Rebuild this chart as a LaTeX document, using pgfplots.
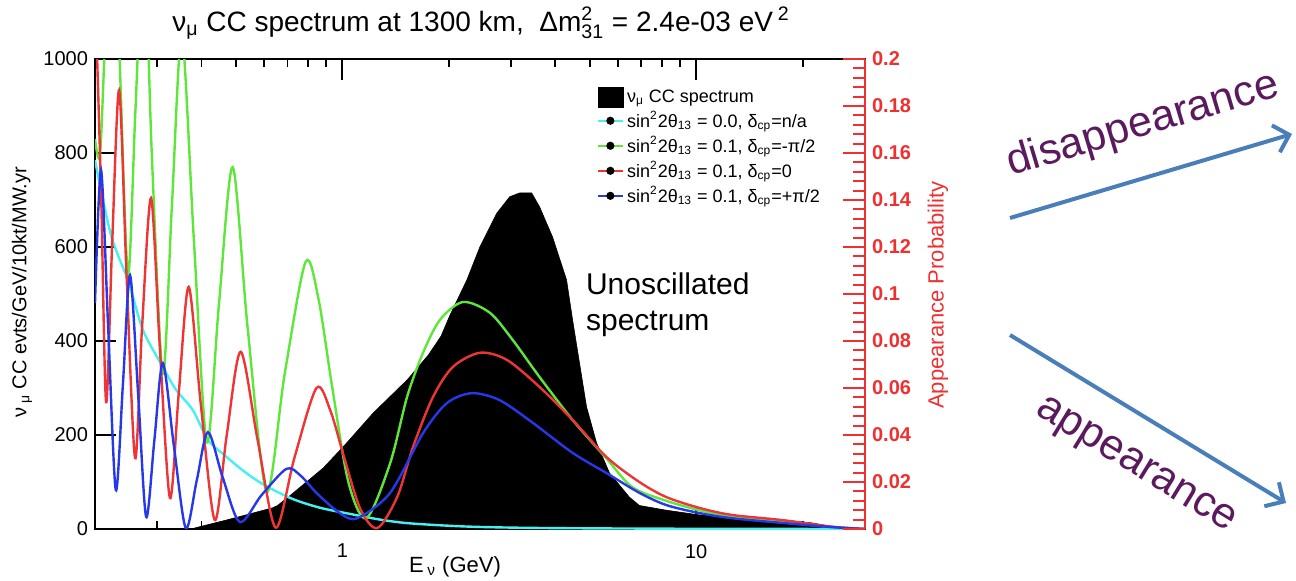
\documentclass[border=0pt]{standalone}
\usepackage{amsmath}
\usepackage{fontspec}
\setmainfont{Liberation Sans}
\usepackage{pgfplots}
\pgfplotsset{compat=1.18}
\usetikzlibrary{arrows.meta}
\definecolor{cyanc}{HTML}{44F0F0}
\definecolor{greenc}{HTML}{5EE63A}
\definecolor{redc}{HTML}{EE3535}
\definecolor{bluec}{HTML}{2638E8}
\definecolor{axred}{HTML}{EE3030}
\definecolor{arrowblue}{HTML}{4A7EBB}
\definecolor{purp}{HTML}{5C1A5E}
\newcommand{\sub}[1]{$_{\text{#1}}$}
\pgfplotsset{dotleg/.style={legend image code/.code={\draw[##1] (0pt,0pt) -- (12.5pt,0pt); \fill[black] (6.25pt,0pt) circle (1.4pt);}}}
\begin{document}
\begin{tikzpicture}
\path[use as bounding box] (0pt,0pt) rectangle (648pt,290pt);
\begin{axis}[
  at={(47.5pt,25.5pt)}, anchor=south west,
  width=385pt, height=235pt, scale only axis,
  xmode=log, xmin=0.2, xmax=30,
  ymin=0, ymax=1000,
  xtick={1,10}, xticklabels={1,10},
  minor xtick={0.2,0.3,0.4,0.5,0.6,0.7,0.8,0.9,2,3,4,5,6,7,8,9,20,30},
  ytick={0,200,400,600,800,1000},
  yticklabels={0,200,400,600,800,1000},
  ytick pos=left,
  tick align=inside,
  major tick length=10.5pt, minor tick length=4pt,
  tick style={black, line width=0.9pt},
  axis line style={line width=0.8pt},
  tick label style={font=\fontsize{10}{12}\selectfont},
  xticklabel style={yshift=-4pt},
  /pgf/number format/assume math mode=true,
  legend style={at={(0.651,0.942)}, anchor=north west, draw=none, fill=none,
    font=\fontsize{9}{10}\selectfont, inner sep=0pt, row sep=0pt, nodes={inner sep=1.5pt}},
  legend cell align=left,
]
% unoscillated spectrum (filled)
\addplot[fill=black, draw=black, line width=0.3pt,
  legend image code/.code={\fill[black] (0pt,-5pt) rectangle (12.5pt,5pt);}]
coordinates {
(0.2,0) (0.373,0) (0.493,23) (0.635,45) (0.656,50) (0.714,72) (0.884,130) (1.02,180)
(1.223,247) (1.524,317) (1.75,370) (1.9,410) (2.015,455) (2.249,530) (2.447,600) (2.733,672)
(2.973,707) (3.171,715) (3.428,715) (3.612,685) (3.929,621) (4.302,530) (4.474,445)
(4.68,353) (4.899,260) (5.23,183) (5.69,119) (6.47,68) (6.91,50) (8.23,40) (10.2,30)
(13.2,26) (17.5,19) (21.2,13) (24.2,5) (30,0)
} \closedcycle;
\addlegendentry{ν\sub{μ} CC spectrum\rule[-4pt]{0pt}{1pt}}
% sin^2 2theta13 = 0
\addplot[cyanc, line width=1.2pt, smooth, dotleg] coordinates {
(0.2,785) (0.222,625) (0.249,525) (0.2733,423) (0.311,345) (0.339,296) (0.378,253)
(0.417,190) (0.468,155) (0.533,120) (0.607,92) (0.723,64) (0.867,45) (1.053,32)
(1.279,20) (1.554,12) (2.294,5) (3.85,2) (10,0.5) (30,0)
};
\addlegendentry{sin$^{\text{2}}$2θ\sub{13} = 0.0, δ\sub{cp}=n/a}
% delta = -pi/2
\addplot[greenc, line width=1.2pt, smooth, dotleg] coordinates {
(0.2,830) (0.2068,800) (0.215,1100) (0.225,1400) (0.2355,970) (0.248,540) (0.2603,895)
(0.275,1250) (0.2897,790) (0.311,330) (0.330,690) (0.352,1050) (0.3804,618) (0.414,185)
(0.448,478) (0.490,770) (0.540,428) (0.611,80) (0.6866,328) (0.787,568) (0.856,490)
(0.937,300) (1.04,100) (1.169,23) (1.365,140) (1.524,281) (1.691,375) (1.888,445)
(2.192,483) (2.612,460) (3.032,402) (3.612,323) (4.474,232) (5.58,150) (6.60,89)
(8.23,60) (10.2,40) (12.6,26) (17.5,15) (24.2,4) (30,0)
};
\addlegendentry{sin$^{\text{2}}$2θ\sub{13} = 0.1, δ\sub{cp}=-π/2}
% delta = 0
\addplot[redc, line width=1.2pt, smooth, dotleg] coordinates {
(0.2,1150) (0.208,720) (0.215,270) (0.2235,602) (0.234,934) (0.2455,542) (0.2596,151)
(0.2716,428) (0.288,704) (0.305,385) (0.3257,66) (0.345,290) (0.368,515) (0.398,267)
(0.4359,19) (0.471,198) (0.516,377) (0.576,190) (0.648,3) (0.732,151) (0.845,300)
(0.925,252) (1.013,151) (1.124,43) (1.255,2) (1.429,68) (1.585,175) (1.804,281)
(2.054,345) (2.447,375) (2.915,360) (3.612,302) (4.474,232) (5.58,153) (6.91,100)
(8.23,68) (10.2,45) (12.6,30) (17.5,19) (24.2,5) (30,0)
};
\addlegendentry{sin$^{\text{2}}$2θ\sub{13} = 0.1, δ\sub{cp}=0}
% delta = +pi/2
\addplot[bluec, line width=1.2pt, smooth, dotleg] coordinates {
(0.2,481) (0.208,764) (0.218,424) (0.229,83) (0.240,312) (0.2512,540) (0.265,283)
(0.279,26) (0.2944,190) (0.311,353) (0.334,178) (0.361,2) (0.388,104) (0.417,206)
(0.459,110) (0.513,15) (0.591,72) (0.695,128) (0.761,114) (0.850,75) (0.987,33)
(1.102,23) (1.365,77) (1.691,204) (1.976,268) (2.323,289) (2.786,274) (3.452,226)
(4.474,162) (5.58,119) (6.91,77) (8.23,51) (10.2,34) (12.6,23) (17.5,13) (24.2,4) (30,0)
};
\addlegendentry{sin$^{\text{2}}$2θ\sub{13} = 0.1, δ\sub{cp}=+π/2}
\end{axis}
\begin{axis}[
  at={(47.5pt,25.5pt)}, anchor=south west,
  width=385pt, height=235pt, scale only axis,
  xmode=log, xmin=0.2, xmax=30, ymin=0, ymax=0.2,
  hide x axis,
  axis y line*=right,
  ytick={0,0.02,0.04,0.06,0.08,0.1,0.12,0.14,0.16,0.18,0.2},
  yticklabels={0,0.02,0.04,0.06,0.08,0.1,0.12,0.14,0.16,0.18,0.2},
  minor y tick num=4,
  tick align=inside,
  major tick length=11pt, minor tick length=6pt,
  y axis line style={axred, line width=1.1pt},
  ytick style={axred, line width=1pt},
  yticklabel style={axred, font=\bfseries\fontsize{10}{12}\selectfont},
]
\end{axis}
\begin{scope}[x=0.5pt,y=-0.5pt,shift={(0pt,290pt)}]
\node[font=\fontsize{14}{16}\selectfont] at (481,23) {ν\sub{μ} CC spectrum at 1300 km,\ \ Δm$^{\text{2}}_{\text{31}}$ = 2.4e-03 eV\,$^{\text{2}}$};
\node[font=\fontsize{11}{13}\selectfont] at (455,567) {E\,\sub{ν} (GeV)};
\node[rotate=90, font=\fontsize{10}{12}\selectfont] at (22,292) {ν\,\sub{μ} CC evts/GeV/10kt/MW.yr};
\node[rotate=90, text=axred, font=\fontsize{11}{13}\selectfont] at (938,295) {Appearance Probability};
\node[anchor=base west, font=\fontsize{15}{18}\selectfont] at (579,294) {Unoscillated};
\node[anchor=base west, font=\fontsize{15}{18}\selectfont] at (579,330) {spectrum};
\draw[arrowblue, line width=2pt, -{Straight Barb[length=7pt,width=14pt,line width=2pt]}] (1010,218) -- (1292,134);
\draw[arrowblue, line width=2pt, -{Straight Barb[length=7pt,width=14pt,line width=2pt]}] (1010,335) -- (1286,503);
\node[text=purp, rotate=16.6, font=\fontsize{21.5}{24}\selectfont] at (1143,125) {disappearance};
\node[text=purp, rotate=-31.5, font=\fontsize{21.5}{24}\selectfont] at (1135,467) {appearance};
\end{scope}
\end{tikzpicture}
\end{document}
